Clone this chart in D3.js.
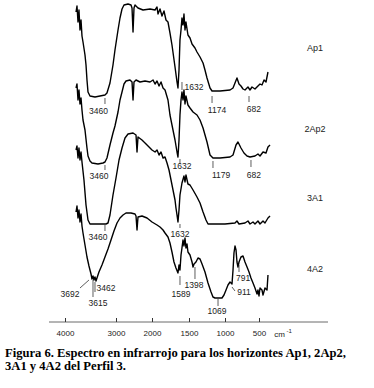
<!DOCTYPE html>
<html>
<head>
<meta charset="utf-8">
<script src="https://cdn.jsdelivr.net/npm/d3@7/dist/d3.min.js"></script>
<style>
body { margin: 0; background: #fff; }
</style>
</head>
<body>
<svg id="ir" width="374" height="388"></svg>
<script>
// wavenumber ticks of the bottom axis (cm-1)
var ticks = [4000, 3000, 2000, 1500, 1000, 500];

// horizon names and the level where each name sits
var names = ["Ap1", "2Ap2", "3A1", "4A2"];
var nameLevels = [271, 190, 121, 50];

// spectra, [wavenumber, transmittance (arbitrary, stacked)]
var ap1 = [[3784,310],[3765,316],[3745,300],[3726,312],[3706,292],[3686,302],[3667,286],[3647,280],
    [3608,267],[3588,257],[3569,242],[3549,230],[3510,226],[3412,225],[3314,226],[3216,227],[3177,229],
    [3118,239],[3059,257],[3020,272],[2944,292],[2889,304],[2833,313],[2778,317],[2666,318],[2583,317],
    [2555,314],[2527,290],[2500,314],[2472,317],[2389,314],[2250,312],[2055,313],[1959,312],[1932,315],
    [1919,308],[1892,313],[1865,306],[1838,311],[1811,302],[1784,300],[1757,289],[1730,277],[1689,255],
    [1662,240],[1649,234],[1635,252],[1622,282],[1608,292],[1595,304],[1581,297],[1568,308],[1554,292],
    [1541,300],[1514,287],[1486,284],[1458,278],[1417,274],[1389,270],[1347,265],[1305,259],[1278,252],
    [1250,244],[1208,234],[1180,231],[1069,231],[926,232],[882,234],[853,239],[824,244],[794,238],
    [765,236],[735,233],[706,232],[662,235],[632,232],[603,235],[559,233],[515,236],[485,238],[456,237],
    [426,242],[397,240],[368,250]];

var ap2 = [[3784,234],[3765,238],[3745,222],[3726,232],[3706,218],[3686,224],[3667,212],[3647,202],
    [3608,192],[3569,174],[3549,166],[3510,161],[3471,159],[3353,158],[3255,159],[3216,160],[3177,164],
    [3118,177],[3059,189],[3020,196],[2944,210],[2889,222],[2833,230],[2778,238],[2722,241],[2611,242],
    [2555,240],[2527,222],[2500,240],[2444,242],[2333,240],[2194,241],[2055,240],[1986,242],[1959,238],
    [1932,241],[1905,236],[1878,240],[1851,234],[1824,232],[1784,222],[1757,207],[1730,197],[1689,182],
    [1662,170],[1649,165],[1635,182],[1622,207],[1608,222],[1595,230],[1581,222],[1568,232],[1554,218],
    [1541,226],[1514,217],[1486,214],[1444,210],[1389,207],[1347,202],[1305,194],[1250,180],[1208,167],
    [1167,164],[1069,164],[926,165],[882,167],[838,177],[809,180],[765,174],[721,169],[676,166],
    [632,165],[559,166],[515,168],[485,166],[441,170],[397,169],[368,175],[338,177]];

var a31 = [[3784,172],[3765,176],[3745,164],[3726,174],[3706,162],[3686,170],[3667,160],[3628,142],
    [3588,117],[3549,102],[3510,98],[3314,98],[3196,98],[3157,99],[3118,107],[3059,127],[3000,144],
    [2916,162],[2833,174],[2750,184],[2666,188],[2527,189],[2444,187],[2416,170],[2389,185],[2278,182],
    [2138,177],[2000,172],[1959,170],[1932,172],[1905,167],[1878,170],[1851,164],[1824,165],[1797,159],
    [1770,152],[1743,142],[1716,132],[1689,122],[1676,114],[1662,107],[1649,100],[1635,112],[1622,127],
    [1595,139],[1568,146],[1554,140],[1541,147],[1514,138],[1486,137],[1444,132],[1389,125],[1347,119],
    [1305,110],[1264,102],[1236,98],[1139,98],[1000,98],[853,99],[824,101],[794,98],[706,99],[662,101],
    [632,98],[588,100],[559,98],[515,101],[485,98],[441,101],[412,99],[368,104],[338,106]];

var a42 = [[3784,110],[3765,116],[3745,104],[3726,112],[3706,100],[3686,108],[3667,96],[3647,89],
    [3608,77],[3569,65],[3530,56],[3510,52],[3490,48],[3471,43],[3451,46],[3432,42],[3412,45],[3392,41],
    [3373,44],[3334,50],[3275,57],[3216,65],[3157,73],[3098,82],[3040,91],[2972,99],[2889,104],[2805,107],
    [2722,109],[2583,109],[2472,108],[2444,106],[2416,92],[2389,105],[2278,106],[2138,104],[2000,100],
    [1932,97],[1892,95],[1851,92],[1824,89],[1784,85],[1757,79],[1730,70],[1703,60],[1676,54],[1649,49],
    [1635,57],[1622,52],[1608,67],[1595,74],[1581,82],[1568,76],[1554,84],[1541,74],[1527,78],[1514,70],
    [1486,67],[1458,60],[1444,55],[1430,58],[1403,60],[1375,64],[1347,63],[1319,58],[1278,50],[1236,39],
    [1194,30],[1167,25],[1139,24],[1042,24],[1014,27],[985,32],[956,37],[926,40],[897,38],[882,52],
    [868,69],[853,76],[838,72],[824,60],[809,55],[794,60],[765,65],[735,66],[706,60],[676,55],[647,50],
    [618,44],[588,39],[559,34],[529,28],[515,32],[500,26],[485,34],[456,32],[441,27],[412,34],[382,32],
    [368,47]];

var spectra = [ap1, ap2, a31, a42];

// band labels: [text, line from wn, v, line to wn, v, text wn, text v]
var bands = [
    ["3460", 3216, 224, 3216, 218, 3343, 208],
    ["1632", 1595, 240, 1595, 232, 1430, 232],
    ["1174", 1180, 226, 1180, 219, 1111, 209],
    ["682", 647, 226, 647, 220, 574, 210],
    ["3460", 3216, 157, 3216, 152, 3334, 143],
    ["1632", 1622, 163, 1622, 158, 1595, 153],
    ["1179", 1167, 161, 1167, 154, 1055, 144],
    ["682", 618, 162, 618, 155, 574, 144],
    ["3460", 3216, 97, 3216, 91, 3353, 82],
    ["1632", 1622, 98, 1622, 94, 1622, 85],
    ["3692", 3530, 42, 3706, 34, 3902, 25],
    ["3615", 3451, 42, 3451, 25, 3353, 16],
    ["3462", 3412, 40, 3412, 30, 3196, 31],
    ["1589", 1622, 46, 1622, 37, 1608, 25],
    ["1398", 1417, 55, 1417, 43, 1430, 34],
    ["1069", 1097, 23, 1097, 16, 1111, 8],
    ["911", 897, 35, 853, 31, 721, 27],
    ["791", 794, 57, 794, 50, 735, 41]
];

var svg = d3.select("#ir");
var W = +svg.attr("width"), H = +svg.attr("height");
var margin = {top: 2, left: 49, right: 46, bottom: 66};
var axisY = H - margin.bottom;

// split scale like the instrument's plot: compressed above 2000 cm-1
var x = d3.scaleLinear().domain(ticks).range([65, 116, 152, 189, 225, 259]);
var y = d3.scaleLinear().domain([0, 320]).range([axisY, margin.top]);

var line = d3.line()
    .x(function (d) { return x(d[0]); })
    .y(function (d) { return y(d[1]); });

svg.append("g")
    .selectAll("path")
    .data(spectra)
    .enter().append("path")
    .attr("d", line)
    .style("fill", "none")
    .style("stroke", "#000")
    .style("stroke-width", 1.4)
    .style("stroke-linejoin", "round");

// band marks
var b = svg.append("g").attr("class", "bands");
b.selectAll("line")
    .data(bands)
    .enter().append("line")
    .attr("x1", function (d) { return x(d[1]); })
    .attr("y1", function (d) { return y(d[2]); })
    .attr("x2", function (d) { return x(d[3]); })
    .attr("y2", function (d) { return y(d[4]); })
    .style("stroke", "#333")
    .style("stroke-width", 0.8);
b.selectAll("text")
    .data(bands)
    .enter().append("text")
    .attr("x", function (d) { return x(d[5]); })
    .attr("y", function (d) { return y(d[6]); })
    .attr("text-anchor", "middle")
    .attr("font-family", "Liberation Sans, Arial, sans-serif")
    .attr("font-size", 8.5)
    .style("fill", "#222")
    .text(function (d) { return d[0]; });

// horizon names
svg.append("g")
    .selectAll("text")
    .data(names)
    .enter().append("text")
    .attr("x", W - margin.right - 13)
    .attr("y", function (d, i) { return y(nameLevels[i]); })
    .attr("text-anchor", "middle")
    .attr("font-family", "Liberation Sans, Arial, sans-serif")
    .attr("font-size", 9)
    .style("fill", "#222")
    .text(function (d) { return d; });

// bottom axis
var ax = svg.append("g")
    .attr("transform", "translate(0," + axisY + ")")
    .call(d3.axisBottom(x).tickValues(ticks).tickFormat(d3.format("d"))
        .tickSizeInner(-4).tickSizeOuter(0).tickPadding(8));
ax.select(".domain").remove();
ax.selectAll(".tick line").style("stroke", "#333");
ax.selectAll(".tick text")
    .attr("font-family", "Liberation Sans, Arial, sans-serif")
    .attr("font-size", 8)
    .style("fill", "#222");
ax.append("line")
    .attr("x1", margin.left)
    .attr("x2", W - margin.right)
    .style("stroke", "#444")
    .style("stroke-width", 0.8);
var unit = ax.append("text")
    .attr("x", 283)
    .attr("y", 15)
    .attr("font-family", "Liberation Sans, Arial, sans-serif")
    .attr("font-size", 8)
    .style("fill", "#222")
    .text("cm");
unit.append("tspan").attr("dy", -4).attr("font-size", 6).text(" -1");

// caption
var cap = svg.append("text")
    .attr("font-family", "Liberation Serif, Times New Roman, serif")
    .attr("font-weight", "bold")
    .attr("font-size", 12.6)
    .style("fill", "#000");
cap.append("tspan").attr("x", 5).attr("y", 357)
    .text("Figura 6. Espectro en infrarrojo para los horizontes Ap1, 2Ap2,");
cap.append("tspan").attr("x", 5).attr("y", 370)
    .text("3A1 y 4A2 del Perfil 3.");
</script>
</body>
</html>
